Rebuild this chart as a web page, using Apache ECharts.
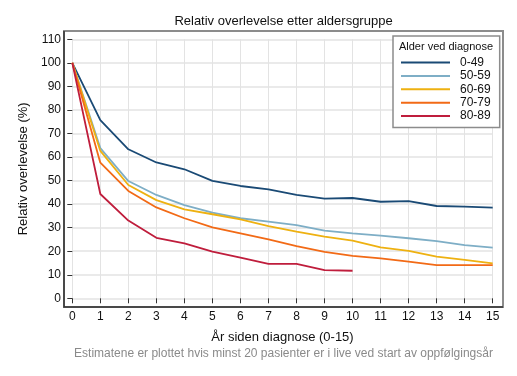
<!DOCTYPE html>
<html>
<head>
<meta charset="utf-8">
<script src="https://cdn.jsdelivr.net/npm/echarts@6/dist/echarts.min.js"></script>
<style>
  html, body { margin: 0; padding: 0; background: #fff; }
  #chart { width: 517px; height: 376px; }
</style>
</head>
<body>
<div id="chart"></div>
<script>
const years = [0, 1, 2, 3, 4, 5, 6, 7, 8, 9, 10, 11, 12, 13, 14, 15];
const ageGroups = ['0-49', '50-59', '60-69', '70-79', '80-89'];
const surv0049 = [100, 75.7, 63.3, 57.7, 54.8, 49.9, 47.7, 46.3, 43.9, 42.3, 42.6, 41.0, 41.3, 39.2, 38.9, 38.5];
const surv5059 = [100, 63.8, 49.8, 43.9, 39.6, 36.4, 34.0, 32.6, 31.1, 28.7, 27.6, 26.6, 25.5, 24.3, 22.6, 21.5];
const surv6069 = [100, 62.6, 48.1, 41.7, 37.8, 35.7, 33.5, 30.7, 28.3, 26.2, 24.5, 21.6, 20.1, 17.7, 16.3, 14.8];
const surv7079 = [100, 57.6, 45.6, 38.6, 34.0, 30.1, 27.6, 25.0, 22.2, 19.7, 18.0, 17.0, 15.6, 14.1, 14.1, 14.1];
const surv8089 = [100, 44.3, 33.0, 25.7, 23.3, 19.8, 17.3, 14.6, 14.6, 12.0, 11.7];
const colors = ['#1a4a75', '#7eaec6', '#eeb111', '#f26a16', '#bf1d3c'];

const font = 'Liberation Sans, Arial, sans-serif';
const chart = echarts.init(document.getElementById('chart'));

const seriesData = [surv0049, surv5059, surv6069, surv7079, surv8089];

chart.setOption({
  animation: false,
  textStyle: { fontFamily: font },
  title: [
    {
      text: 'Relativ overlevelse etter aldersgruppe',
      left: 283.5, top: 15, textAlign: 'center', padding: 0,
      textStyle: { fontSize: 13, fontWeight: 'normal', color: '#111', fontFamily: font },
    },
    {
      text: 'Estimatene er plottet hvis minst 20 pasienter er i live ved start av oppfølgingsår',
      left: 283.5, top: 348, textAlign: 'center', padding: 0,
      textStyle: { fontSize: 12, fontWeight: 'normal', color: '#8a8a8a', fontFamily: font },
    },
  ],
  grid: { left: 72.3, right: 24.3, top: 39.3, bottom: 77.7 },
  xAxis: {
    type: 'value', min: 0, max: 15, interval: 1, offset: 8.7,
    name: 'År siden diagnose (0-15)', nameLocation: 'middle', nameGap: 24,
    nameTextStyle: { fontSize: 13, color: '#111' },
    axisLine: { show: false },
    axisTick: { show: true, length: 5, lineStyle: { color: '#333' } },
    axisLabel: { fontSize: 12, color: '#111', margin: 4 },
    splitLine: { show: true, lineStyle: { color: '#e3e3e3', width: 1 } },
  },
  yAxis: {
    type: 'value', min: 0, max: 110, interval: 10, offset: 8.3,
    name: 'Relativ overlevelse (%)', nameLocation: 'middle', nameGap: 31,
    nameTextStyle: { fontSize: 13, color: '#111' },
    axisLine: { show: false },
    axisTick: { show: true, length: 5, lineStyle: { color: '#333' } },
    axisLabel: { fontSize: 12, color: '#111', margin: 3 },
    splitLine: { show: true, lineStyle: { color: '#e3e3e3', width: 1.5 } },
  },
  legend: {
    orient: 'vertical', left: 393, top: 36,
    padding: [20, 9, 5, 8],
    backgroundColor: '#fff', borderColor: '#8c8c8c', borderWidth: 1.5, borderRadius: 0,
    icon: 'rect', itemWidth: 49, itemHeight: 2, itemGap: 0.4,
    textStyle: { fontSize: 12, color: '#111', lineHeight: 13, padding: [0, 0, 0, 5] },
    data: ageGroups,
  },
  graphic: [
    {
      type: 'text', z: 100, x: 446, y: 47,
      style: { text: 'Alder ved diagnose', font: '11px ' + font, fill: '#111', textAlign: 'center', textVerticalAlign: 'middle' },
    },
    {
      type: 'rect', z: 50, silent: true,
      shape: { x: 64, y: 31, width: 439, height: 276 },
      style: { fill: 'none', stroke: '#8c8c8c', lineWidth: 2 },
    },
    {
      type: 'polyline', z: 51, silent: true,
      shape: { points: [[64, 31], [64, 307], [503, 307]] },
      style: { fill: 'none', stroke: '#333', lineWidth: 1.5 },
    },
  ],
  series: ageGroups.map((name, i) => ({
    name,
    type: 'line',
    data: seriesData[i].map((v, j) => [years[j], v]),
    showSymbol: false,
    symbol: 'none',
    lineStyle: { width: 1.8, color: colors[i] },
    itemStyle: { color: colors[i] },
  })),
});

window.addEventListener('resize', () => chart.resize());
</script>
</body>
</html>
